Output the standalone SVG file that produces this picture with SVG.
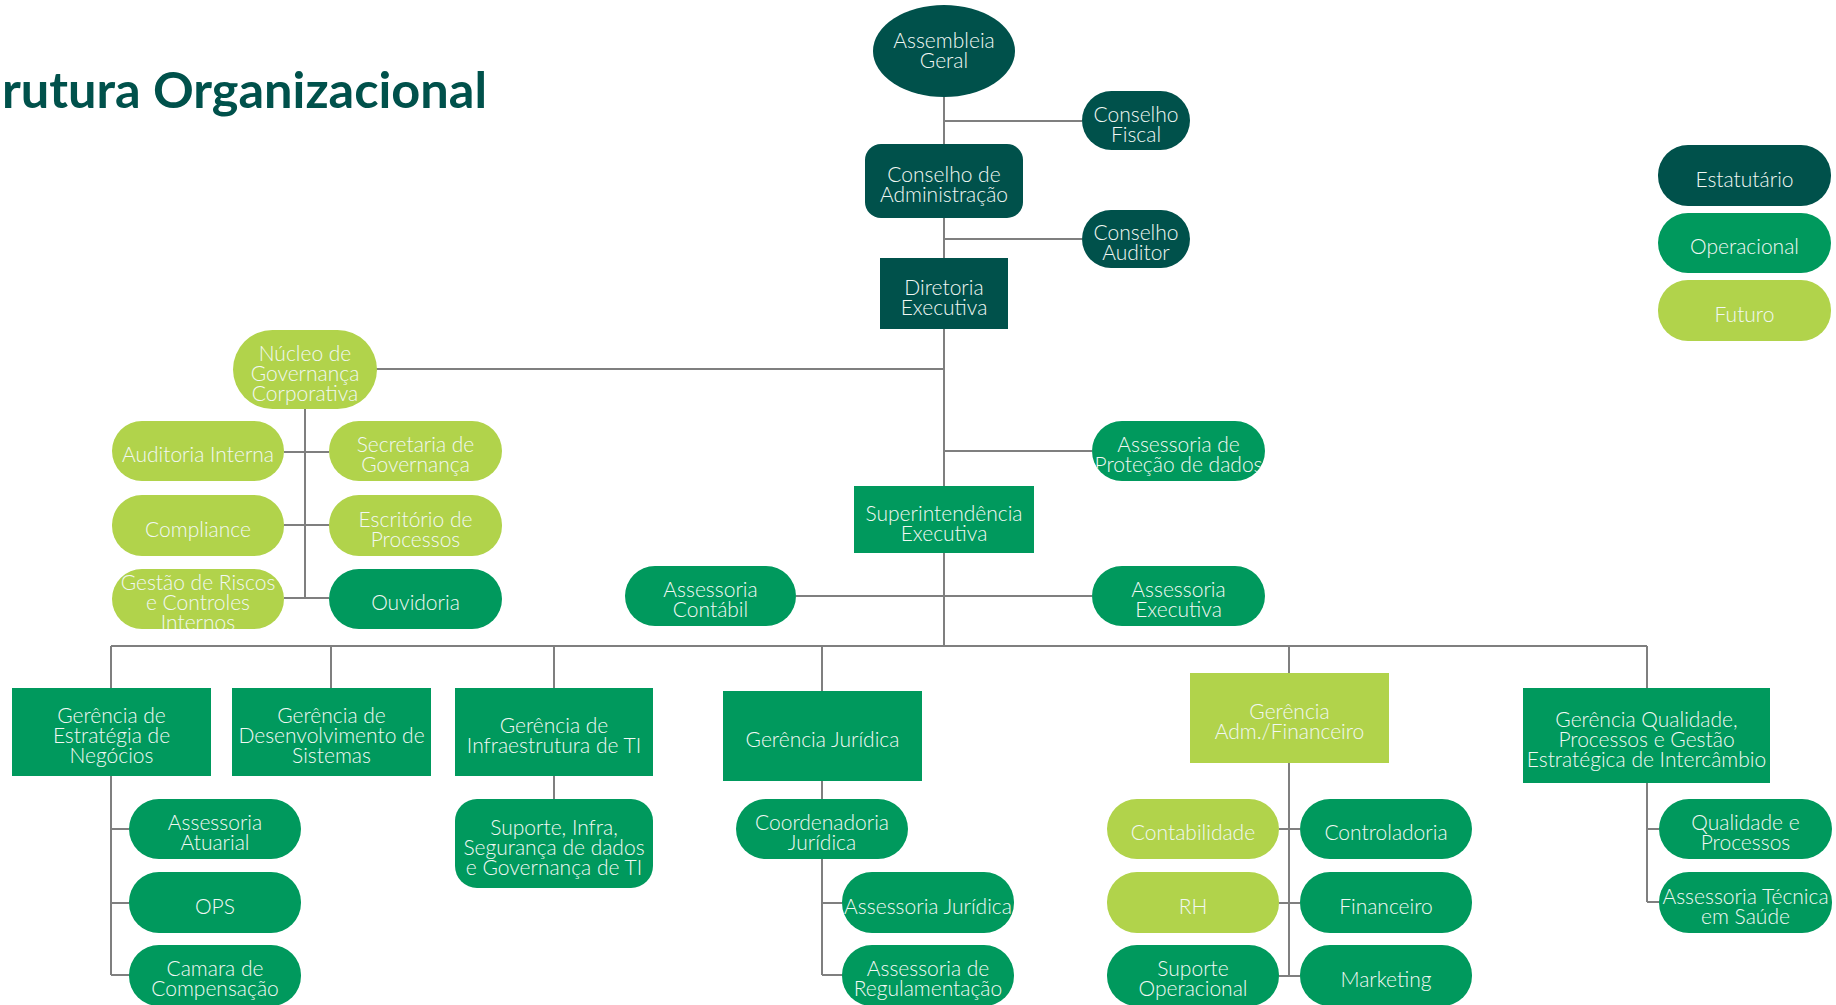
<svg xmlns="http://www.w3.org/2000/svg" width="1836" height="1005" viewBox="0 0 1836 1005">
<style>
.d{fill:#00514B}
.g{fill:#00995D}
.l{fill:#B1D34B}
.t{font-family:Lato,"Open Sans","Liberation Sans",sans-serif;font-size:21px;font-weight:300;fill:#F2F8F4;text-anchor:middle}
.c line{stroke:#7F7F7F;stroke-width:2}
.title{font-family:Lato,"Open Sans","Liberation Sans",sans-serif;font-size:50px;font-weight:700;fill:#00514B}
</style>
<defs>
<clipPath id="clipGestao"><rect x="112" y="569" width="172" height="60" rx="30"/></clipPath>
<clipPath id="clipProtecao"><rect x="1092" y="421" width="173" height="60" rx="30"/></clipPath>
</defs>
<rect width="1836" height="1005" fill="#FFFFFF"/>
<text class="title" x="2" y="108" textLength="485" lengthAdjust="spacingAndGlyphs">rutura Organizacional</text>

<g id="connectors" class="c">
<line x1="944" y1="97" x2="944" y2="646"/>
<line x1="944" y1="121" x2="1082" y2="121"/>
<line x1="944" y1="239" x2="1082" y2="239"/>
<line x1="376" y1="369" x2="944" y2="369"/>
<line x1="305" y1="409" x2="305" y2="598"/>
<line x1="284" y1="452" x2="329" y2="452"/>
<line x1="284" y1="525" x2="329" y2="525"/>
<line x1="284" y1="598" x2="329" y2="598"/>
<line x1="944" y1="451" x2="1092" y2="451"/>
<line x1="796" y1="596" x2="1092" y2="596"/>
<line x1="111" y1="646" x2="1647" y2="646"/>
<line x1="111" y1="646" x2="111" y2="688"/>
<line x1="331" y1="646" x2="331" y2="688"/>
<line x1="554" y1="646" x2="554" y2="688"/>
<line x1="822" y1="646" x2="822" y2="691"/>
<line x1="1289" y1="646" x2="1289" y2="673"/>
<line x1="1647" y1="646" x2="1647" y2="688"/>
<line x1="111" y1="776" x2="111" y2="975"/>
<line x1="111" y1="829" x2="129" y2="829"/>
<line x1="111" y1="903" x2="129" y2="903"/>
<line x1="111" y1="975" x2="129" y2="975"/>
<line x1="554" y1="776" x2="554" y2="799"/>
<line x1="822" y1="781" x2="822" y2="799"/>
<line x1="822" y1="859" x2="822" y2="975"/>
<line x1="822" y1="903" x2="842" y2="903"/>
<line x1="822" y1="975" x2="842" y2="975"/>
<line x1="1289" y1="763" x2="1289" y2="976"/>
<line x1="1279" y1="829" x2="1300" y2="829"/>
<line x1="1279" y1="903" x2="1300" y2="903"/>
<line x1="1279" y1="976" x2="1300" y2="976"/>
<line x1="1647" y1="783" x2="1647" y2="902"/>
<line x1="1647" y1="829" x2="1659" y2="829"/>
<line x1="1647" y1="902" x2="1659" y2="902"/>
</g>

<g id="assembleia"><ellipse class="d" cx="944" cy="51" rx="71" ry="46"/><text class="t"><tspan x="944" y="48">Assembleia</tspan><tspan x="944" y="68">Geral</tspan></text></g>
<g id="conselho-fiscal"><rect class="d" x="1082" y="91" width="108" height="59" rx="29.5"/><text class="t"><tspan x="1136" y="121.5">Conselho</tspan><tspan x="1136" y="141.5">Fiscal</tspan></text></g>
<g id="conselho-adm"><rect class="d" x="865" y="144" width="158" height="74" rx="16"/><text class="t"><tspan x="944" y="182">Conselho de</tspan><tspan x="944" y="202">Administração</tspan></text></g>
<g id="conselho-auditor"><rect class="d" x="1082" y="210" width="108" height="58" rx="29"/><text class="t"><tspan x="1136" y="240">Conselho</tspan><tspan x="1136" y="260">Auditor</tspan></text></g>
<g id="diretoria"><rect class="d" x="880" y="258" width="128" height="71"/><text class="t"><tspan x="944" y="294.5">Diretoria</tspan><tspan x="944" y="314.5">Executiva</tspan></text></g>

<g id="nucleo"><rect class="l" x="233" y="330" width="144" height="79" rx="39.5"/><text class="t"><tspan x="305" y="360.5">Núcleo de</tspan><tspan x="305" y="380.5">Governança</tspan><tspan x="305" y="400.5">Corporativa</tspan></text></g>
<g id="auditoria"><rect class="l" x="112" y="421" width="172" height="60" rx="30"/><text class="t"><tspan x="198" y="462">Auditoria Interna</tspan></text></g>
<g id="secretaria"><rect class="l" x="329" y="421" width="173" height="60" rx="30"/><text class="t"><tspan x="415.5" y="452">Secretaria de</tspan><tspan x="415.5" y="472">Governança</tspan></text></g>
<g id="compliance"><rect class="l" x="112" y="495" width="172" height="61" rx="30"/><text class="t"><tspan x="198" y="536.5">Compliance</tspan></text></g>
<g id="escritorio"><rect class="l" x="329" y="495" width="173" height="61" rx="30"/><text class="t"><tspan x="415.5" y="526.5">Escritório de</tspan><tspan x="415.5" y="546.5">Processos</tspan></text></g>
<g id="gestao-riscos"><rect class="l" x="112" y="569" width="172" height="60" rx="30"/><text class="t" clip-path="url(#clipGestao)"><tspan x="198" y="590">Gestão de Riscos</tspan><tspan x="198" y="610">e Controles</tspan><tspan x="198" y="630">Internos</tspan></text></g>
<g id="ouvidoria"><rect class="g" x="329" y="569" width="173" height="60" rx="30"/><text class="t"><tspan x="415.5" y="610">Ouvidoria</tspan></text></g>

<g id="protecao"><rect class="g" x="1092" y="421" width="173" height="60" rx="30"/><text class="t" clip-path="url(#clipProtecao)"><tspan x="1178.5" y="452">Assessoria de</tspan><tspan x="1178.5" y="472">Proteção de dados</tspan></text></g>
<g id="superintendencia"><rect class="g" x="854" y="486" width="180" height="67"/><text class="t"><tspan x="944" y="520.5">Superintendência</tspan><tspan x="944" y="540.5">Executiva</tspan></text></g>
<g id="contabil"><rect class="g" x="625" y="566" width="171" height="60" rx="30"/><text class="t"><tspan x="710.5" y="597">Assessoria</tspan><tspan x="710.5" y="617">Contábil</tspan></text></g>
<g id="assessoria-executiva"><rect class="g" x="1092" y="566" width="173" height="60" rx="30"/><text class="t"><tspan x="1178.5" y="597">Assessoria</tspan><tspan x="1178.5" y="617">Executiva</tspan></text></g>

<g id="ger-estrategia"><rect class="g" x="12" y="688" width="199" height="88"/><text class="t"><tspan x="111.5" y="723">Gerência de</tspan><tspan x="111.5" y="743">Estratégia de</tspan><tspan x="111.5" y="763">Negócios</tspan></text></g>
<g id="ger-desenvolvimento"><rect class="g" x="232" y="688" width="199" height="88"/><text class="t"><tspan x="331.5" y="723">Gerência de</tspan><tspan x="331.5" y="743">Desenvolvimento de</tspan><tspan x="331.5" y="763">Sistemas</tspan></text></g>
<g id="ger-infra"><rect class="g" x="455" y="688" width="198" height="88"/><text class="t"><tspan x="554" y="733">Gerência de</tspan><tspan x="554" y="753">Infraestrutura de TI</tspan></text></g>
<g id="ger-juridica"><rect class="g" x="723" y="691" width="199" height="90"/><text class="t"><tspan x="822.5" y="747">Gerência Jurídica</tspan></text></g>
<g id="ger-adm"><rect class="l" x="1190" y="673" width="199" height="90"/><text class="t"><tspan x="1289.5" y="719">Gerência</tspan><tspan x="1289.5" y="739">Adm./Financeiro</tspan></text></g>
<g id="ger-qualidade"><rect class="g" x="1523" y="688" width="247" height="95"/><text class="t"><tspan x="1646.5" y="726.5">Gerência Qualidade,</tspan><tspan x="1646.5" y="746.5">Processos e Gestão</tspan><tspan x="1646.5" y="766.5">Estratégica de Intercâmbio</tspan></text></g>

<g id="atuarial"><rect class="g" x="129" y="799" width="172" height="60" rx="30"/><text class="t"><tspan x="215" y="830">Assessoria</tspan><tspan x="215" y="850">Atuarial</tspan></text></g>
<g id="ops"><rect class="g" x="129" y="872" width="172" height="61" rx="30"/><text class="t"><tspan x="215" y="913.5">OPS</tspan></text></g>
<g id="camara"><rect class="g" x="129" y="945" width="172" height="61" rx="30"/><text class="t"><tspan x="215" y="976">Camara de</tspan><tspan x="215" y="996">Compensação</tspan></text></g>
<g id="suporte-infra"><rect class="g" x="455" y="799" width="198" height="89" rx="22"/><text class="t"><tspan x="554" y="834.5">Suporte, Infra,</tspan><tspan x="554" y="854.5">Segurança de dados</tspan><tspan x="554" y="874.5">e Governança de TI</tspan></text></g>
<g id="coordenadoria"><rect class="g" x="736" y="799" width="172" height="60" rx="30"/><text class="t"><tspan x="822" y="830">Coordenadoria</tspan><tspan x="822" y="850">Jurídica</tspan></text></g>
<g id="assessoria-juridica"><rect class="g" x="842" y="872" width="172" height="61" rx="30"/><text class="t"><tspan x="928" y="913.5">Assessoria Jurídica</tspan></text></g>
<g id="regulamentacao"><rect class="g" x="842" y="945" width="172" height="61" rx="30"/><text class="t"><tspan x="928" y="976">Assessoria de</tspan><tspan x="928" y="996">Regulamentação</tspan></text></g>
<g id="contabilidade"><rect class="l" x="1107" y="799" width="172" height="60" rx="30"/><text class="t"><tspan x="1193" y="840">Contabilidade</tspan></text></g>
<g id="controladoria"><rect class="g" x="1300" y="799" width="172" height="60" rx="30"/><text class="t"><tspan x="1386" y="840">Controladoria</tspan></text></g>
<g id="rh"><rect class="l" x="1107" y="872" width="172" height="61" rx="30"/><text class="t"><tspan x="1193" y="913.5">RH</tspan></text></g>
<g id="financeiro"><rect class="g" x="1300" y="872" width="172" height="61" rx="30"/><text class="t"><tspan x="1386" y="913.5">Financeiro</tspan></text></g>
<g id="suporte-operacional"><rect class="g" x="1107" y="945" width="172" height="61" rx="30"/><text class="t"><tspan x="1193" y="976">Suporte</tspan><tspan x="1193" y="996">Operacional</tspan></text></g>
<g id="marketing"><rect class="g" x="1300" y="945" width="172" height="61" rx="30"/><text class="t"><tspan x="1386" y="986.5">Marketing</tspan></text></g>
<g id="qualidade-processos"><rect class="g" x="1659" y="799" width="173" height="60" rx="30"/><text class="t"><tspan x="1745.5" y="830">Qualidade e</tspan><tspan x="1745.5" y="850">Processos</tspan></text></g>
<g id="assessoria-tecnica"><rect class="g" x="1659" y="872" width="173" height="61" rx="30"/><text class="t"><tspan x="1745.5" y="903.5">Assessoria Técnica</tspan><tspan x="1745.5" y="923.5">em Saúde</tspan></text></g>

<g id="legend-estatutario"><rect class="d" x="1658" y="145" width="173" height="61" rx="30"/><text class="t"><tspan x="1744.5" y="186.5">Estatutário</tspan></text></g>
<g id="legend-operacional"><rect class="g" x="1658" y="213" width="173" height="60" rx="30"/><text class="t"><tspan x="1744.5" y="254">Operacional</tspan></text></g>
<g id="legend-futuro"><rect class="l" x="1658" y="280" width="173" height="61" rx="30"/><text class="t"><tspan x="1744.5" y="321.5">Futuro</tspan></text></g>
</svg>
